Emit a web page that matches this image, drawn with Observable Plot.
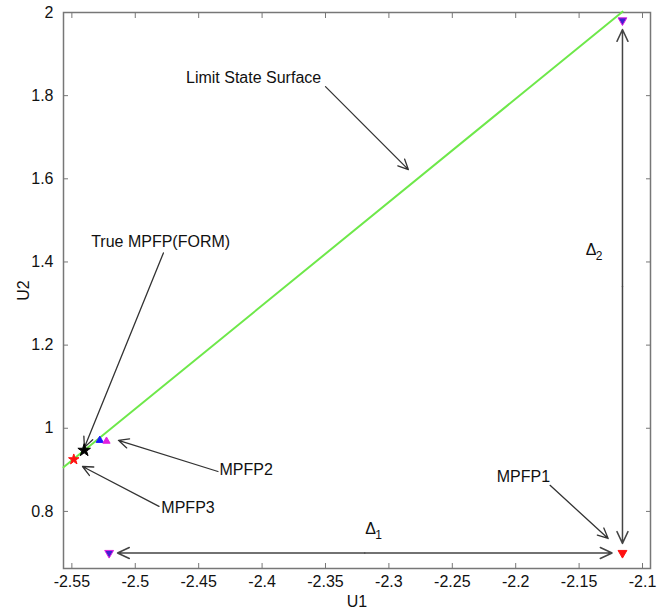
<!DOCTYPE html>
<html>
<head>
<meta charset="utf-8">
<script src="https://cdn.jsdelivr.net/npm/d3@7"></script>
<script src="https://cdn.jsdelivr.net/npm/@observablehq/plot@0.6"></script>
<style>
  html, body { margin: 0; padding: 0; background: #fff; }
  #chart svg { display: block; }
</style>
</head>
<body>
<div id="chart"></div>
<script>
// Axis ticks
const xTicks = [-2.55, -2.5, -2.45, -2.4, -2.35, -2.3, -2.25, -2.2, -2.15, -2.1];
const yTicks = [0.8, 1, 1.2, 1.4, 1.6, 1.8, 2];

// Limit state surface (straight line)
const limitU1 = [-2.5566, -2.1158];
const limitU2 = [0.906, 2.002];

// Markers
const markerNames = ["MPFP3", "True MPFP", "MPFP2a", "MPFP2b", "D1 start", "MPFP1", "D2 end"];
const markerU1 = [-2.5485, -2.5403, -2.528, -2.5227, -2.5206, -2.1158, -2.1158];
const markerU2 = [0.925, 0.947, 0.971, 0.969, 0.700, 0.700, 1.981];
const markerShape = ["star", "star", "triangle", "triangle", "triangle", "triangle", "triangle"];
const markerRotate = [0, 0, 0, 0, 180, 180, 180];
const markerFill = ["#ff1010", "#000000", "#1a1aff", "#e020e0", "#4020d0", "#ff1010", "#4020d0"];
const markerStroke = ["#ff1010", "#000000", "#1a1aff", "#e020e0", "#e020e0", "#ff1010", "#e020e0"];
const markerR = [4.5, 6.5, 3, 3, 4.5, 4.5, 4.5];

// Annotation arrows
const arrowFromU1 = [-2.35, -2.4778, -2.4348, -2.4813, -2.1729];
const arrowFromU2 = [1.8217, 1.4217, 0.896, 0.812, 0.8627];
const arrowToU1 = [-2.2846, -2.5401, -2.5133, -2.5416, -2.1271];
const arrowToU2 = [1.622, 0.954, 0.971, 0.908, 0.735];

// Double arrows (Delta1 horizontal, Delta2 vertical)
const d1U1 = [-2.514, -2.124];
const d1U2 = 0.700;
const d2U1 = -2.1158;
const d2U2 = [0.723, 1.959];

// Labels
const labelText = ["Limit State Surface", "True MPFP(FORM)", "MPFP2", "MPFP3", "MPFP1"];
const labelU1 = [-2.4067, -2.4800, -2.4126, -2.4584, -2.1939];
const labelU2 = [1.843, 1.448, 0.901, 0.8096, 0.884];
const deltaSub = ["1", "2"];
const deltaU1 = [-2.3145, -2.1405];
const deltaU2 = [0.758, 1.428];

const markers = markerNames.map((n, i) => ({
  name: n, u1: markerU1[i], u2: markerU2[i], shape: markerShape[i],
  rot: markerRotate[i], fill: markerFill[i], stroke: markerStroke[i], r: markerR[i]
}));
const arrows = arrowFromU1.map((v, i) => ({x1: v, y1: arrowFromU2[i], x2: arrowToU1[i], y2: arrowToU2[i]}));
const d1Mid = (d1U1[0] + d1U1[1]) / 2;
const d2Mid = (d2U2[0] + d2U2[1]) / 2;
const dblArrows = [
  {x1: d1Mid, y1: d1U2, x2: d1U1[0], y2: d1U2},
  {x1: d1Mid, y1: d1U2, x2: d1U1[1], y2: d1U2},
  {x1: d2U1, y1: d2Mid, x2: d2U1, y2: d2U2[0]},
  {x1: d2U1, y1: d2Mid, x2: d2U1, y2: d2U2[1]}
];
const labels = labelText.map((t, i) => ({t, u1: labelU1[i], u2: labelU2[i]}));
const deltas = deltaSub.map((s, i) => ({s, u1: deltaU1[i], u2: deltaU2[i]}));
const line = limitU1.map((v, i) => ({u1: v, u2: limitU2[i]}));

const fmt = d => String(+d.toFixed(2)).replace("\u2212", "-");
const axisColor = "#777";
const font = "Liberation Sans, Arial, Helvetica, sans-serif";

const chart = Plot.plot({
  width: 666,
  height: 609,
  marginLeft: 63,
  marginRight: 16,
  marginTop: 12,
  marginBottom: 41,
  style: {fontFamily: font, fontSize: "16px", color: "#111", background: "#fff"},
  x: {domain: [-2.5566, -2.0937]},
  y: {domain: [0.6627, 2.0]},
  marks: [
    Plot.frame({stroke: axisColor, strokeWidth: 1.5}),
    // labelled axes
    Plot.axisX({anchor: "bottom", ticks: xTicks, tickFormat: fmt, tickSize: 0, tickPadding: 7,
      label: "U1", labelAnchor: "center", labelOffset: 38, labelArrow: "none", fontSize: 16, fill: "#111"}),
    Plot.axisY({anchor: "left", ticks: yTicks, tickFormat: fmt, tickSize: 0, tickPadding: 10,
      label: "U2", labelAnchor: "center", labelOffset: 46, labelArrow: "none", fontSize: 16, fill: "#111"}),
    // inward ticks on all four sides
    Plot.axisX({anchor: "bottom", ticks: xTicks, tickSize: -5, tickFormat: () => "", label: null, stroke: axisColor}),
    Plot.axisX({anchor: "top", ticks: xTicks, tickSize: -5, tickFormat: () => "", label: null, stroke: axisColor}),
    Plot.axisY({anchor: "left", ticks: yTicks, tickSize: -5, tickFormat: () => "", label: null, stroke: axisColor}),
    Plot.axisY({anchor: "right", ticks: yTicks, tickSize: -5, tickFormat: () => "", label: null, stroke: axisColor}),
    // limit state surface
    Plot.line(line, {x: "u1", y: "u2", stroke: "#6ee84a", strokeWidth: 2}),
    // annotation arrows
    Plot.arrow(arrows, {x1: "x1", y1: "y1", x2: "x2", y2: "y2", stroke: "#333", strokeWidth: 1.3, headLength: 13, headAngle: 50}),
    Plot.arrow(dblArrows, {x1: "x1", y1: "y1", x2: "x2", y2: "y2", stroke: "#444", strokeWidth: 1.5, headLength: 13, headAngle: 50}),
    // markers
    Plot.dot(markers, {x: "u1", y: "u2", symbol: "shape", rotate: "rot", fill: d => d.fill, stroke: d => d.stroke, r: "r", strokeWidth: 1}),
    // labels
    Plot.text(labels, {x: "u1", y: "u2", text: "t", fontSize: 16, fill: "#111", fontFamily: font}),
    Plot.text(deltas, {x: "u1", y: "u2", text: () => "Δ", fontSize: 16, fill: "#111", fontFamily: font}),
    Plot.text(deltas, {x: "u1", y: "u2", text: "s", fontSize: 12, dx: 8, dy: 6, fill: "#111", fontFamily: font})
  ]
});
document.getElementById("chart").appendChild(chart);
</script>
</body>
</html>
